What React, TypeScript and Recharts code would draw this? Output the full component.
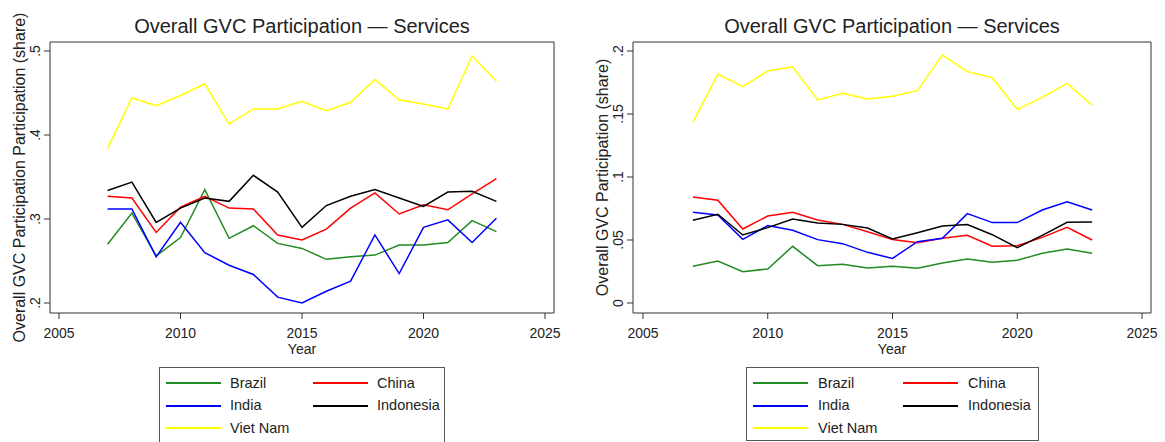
import React from 'react';
import { LineChart, Line, XAxis, YAxis, ReferenceLine } from 'recharts';

const years = [2007, 2008, 2009, 2010, 2011, 2012, 2013, 2014, 2015, 2016, 2017, 2018, 2019, 2020, 2021, 2022, 2023];
const countries = ['Brazil', 'China', 'India', 'Indonesia', 'Viet Nam'];
const countryColors = ['#228B22', '#FF0000', '#0000FF', '#000000', '#FFFF00'];
const yearTicks = [2005, 2010, 2015, 2020, 2025];

// left panel
const brazilA = [0.270, 0.307, 0.256, 0.278, 0.335, 0.277, 0.292, 0.271, 0.265, 0.252, 0.255, 0.257, 0.269, 0.269, 0.272, 0.298, 0.285];
const chinaA = [0.327, 0.325, 0.284, 0.314, 0.327, 0.313, 0.312, 0.281, 0.275, 0.288, 0.313, 0.331, 0.306, 0.317, 0.311, 0.330, 0.348];
const indiaA = [0.312, 0.312, 0.255, 0.296, 0.260, 0.245, 0.234, 0.207, 0.200, 0.214, 0.226, 0.281, 0.235, 0.290, 0.299, 0.272, 0.301];
const indonesiaA = [0.334, 0.344, 0.296, 0.313, 0.325, 0.321, 0.352, 0.332, 0.290, 0.316, 0.327, 0.335, 0.325, 0.315, 0.332, 0.333, 0.321];
const vietNamA = [0.384, 0.444, 0.435, 0.447, 0.461, 0.413, 0.431, 0.431, 0.440, 0.429, 0.439, 0.466, 0.442, 0.437, 0.431, 0.494, 0.464];
const ticksA = [0.2, 0.3, 0.4, 0.5];

// right panel
const brazilB = [0.0291, 0.0333, 0.0249, 0.0270, 0.0450, 0.0296, 0.0307, 0.0278, 0.0291, 0.0275, 0.0317, 0.0349, 0.0323, 0.0339, 0.0394, 0.0429, 0.0394];
const chinaB = [0.0841, 0.0815, 0.0587, 0.0690, 0.0720, 0.0659, 0.0624, 0.0566, 0.0503, 0.0479, 0.0513, 0.0537, 0.0450, 0.0455, 0.0521, 0.0601, 0.0500];
const indiaB = [0.0720, 0.0698, 0.0505, 0.0614, 0.0577, 0.0503, 0.0471, 0.0402, 0.0354, 0.0487, 0.0513, 0.0709, 0.0638, 0.0638, 0.0738, 0.0804, 0.0738];
const indonesiaB = [0.0656, 0.0704, 0.0540, 0.0598, 0.0667, 0.0635, 0.0624, 0.0595, 0.0508, 0.0558, 0.0611, 0.0622, 0.0542, 0.0439, 0.0537, 0.0640, 0.0643];
const vietNamB = [0.1434, 0.1817, 0.1717, 0.1841, 0.1875, 0.1611, 0.1664, 0.1619, 0.1640, 0.1685, 0.1968, 0.1836, 0.1788, 0.1537, 0.1632, 0.1743, 0.1569];
const ticksB = [0, 0.05, 0.1, 0.15, 0.2];

const chartTitle = 'Overall GVC Participation — Services';
const yLabelA = 'Overall GVC Participation Participation (share)';
const yLabelB = 'Overall GVC Participation (share)';

const FONT = '"Liberation Sans", Arial, Helvetica, sans-serif';
const INK = '#222';
const FRAME = '#333';

const buildRows = (series: number[][]) =>
  years.map((year, i) => {
    const row: Record<string, number> = { year };
    countries.forEach((c, k) => {
      row[c] = series[k][i];
    });
    return row;
  });

const rowsA = buildRows([brazilA, chinaA, indiaA, indonesiaA, vietNamA]);
const rowsB = buildRows([brazilB, chinaB, indiaB, indonesiaB, vietNamB]);

// Stata-style share labels: .5, .05, 0
const fmtShare = (v: number) => (v === 0 ? '0' : String(v).replace(/^0\./, '.'));

const RotatedTick = (props: any) => {
  const { x, y, payload } = props;
  return (
    <text
      x={x}
      y={y}
      transform={`rotate(-90 ${x} ${y})`}
      textAnchor="middle"
      fontSize={14}
      fontFamily={FONT}
      fill={INK}
    >
      {fmtShare(payload.value)}
    </text>
  );
};

const YTitle = (props: any) => {
  const { viewBox, text } = props;
  const x = viewBox.x + 25;
  const y = viewBox.y + viewBox.height / 2;
  return (
    <text x={x} y={y} transform={`rotate(-90 ${x} ${y})`} textAnchor="middle" fontSize={16} fontFamily={FONT} fill={INK}>
      {text}
    </text>
  );
};

const XTitle = (props: any) => {
  const { viewBox } = props;
  return (
    <text x={viewBox.x + viewBox.width / 2} y={viewBox.y + 41} textAnchor="middle" fontSize={14} fontFamily={FONT} fill={INK}>
      Year
    </text>
  );
};

interface PanelProps {
  rows: Record<string, number>[];
  width: number;
  xDomain: [number, number];
  yDomain: [number, number];
  yTicks: number[];
  yLabel: string;
}

const Panel = ({ rows, width, xDomain, yDomain, yTicks, yLabel }: PanelProps) => (
  <LineChart width={width} height={442} data={rows} margin={{ top: 42, right: 26, bottom: 89, left: 0 }}>
    <XAxis
      dataKey="year"
      type="number"
      domain={xDomain}
      ticks={yearTicks}
      allowDataOverflow
      height={40}
      tickSize={6}
      tickMargin={9}
      stroke={FRAME}
      tick={{ fontSize: 14, fill: INK, fontFamily: FONT }}
      label={<XTitle />}
    />
    <YAxis
      type="number"
      domain={yDomain}
      ticks={yTicks}
      allowDataOverflow
      width={50}
      tickSize={6}
      tickMargin={4}
      stroke={FRAME}
      tick={<RotatedTick />}
      label={<YTitle text={yLabel} />}
    />
    {/* top and right edges of the plot frame */}
    <ReferenceLine y={yDomain[1]} stroke={FRAME} strokeWidth={1} />
    <ReferenceLine x={xDomain[1]} stroke={FRAME} strokeWidth={1} />
    {countries.map((c, k) => (
      <Line
        key={c}
        type="linear"
        dataKey={c}
        stroke={countryColors[k]}
        strokeWidth={1.5}
        dot={false}
        activeDot={false}
        isAnimationActive={false}
      />
    ))}
  </LineChart>
);

interface LegendBoxProps {
  left: number;
  width: number;
  height: number;
  col2: number;
  textGap: number;
}

const LegendBox = ({ left, width, height, col2, textGap }: LegendBoxProps) => (
  <div
    style={{
      position: 'absolute',
      left,
      top: 367,
      width,
      height,
      border: '1px solid #555',
      boxSizing: 'border-box',
      background: '#fff',
    }}
  >
    {countries.map((c, k) => {
      const row = Math.floor(k / 2);
      const colX = k % 2 === 0 ? 6 : col2;
      const cy = 15 + row * 22.5;
      return (
        <React.Fragment key={c}>
          <div style={{ position: 'absolute', left: colX, top: cy - 1, width: 55, height: 2, background: countryColors[k] }} />
          <div
            style={{
              position: 'absolute',
              left: colX + textGap,
              top: cy - 7.5,
              fontSize: 14.5,
              lineHeight: '15px',
              fontFamily: FONT,
              color: INK,
              whiteSpace: 'nowrap',
            }}
          >
            {c}
          </div>
        </React.Fragment>
      );
    })}
  </div>
);

const Title = ({ center }: { center: number }) => (
  <div
    style={{
      position: 'absolute',
      left: center - 200,
      width: 400,
      top: 16,
      textAlign: 'center',
      fontSize: 20,
      lineHeight: '20px',
      fontFamily: FONT,
      color: INK,
    }}
  >
    {chartTitle}
  </div>
);

export default function App() {
  return (
    <div style={{ position: 'absolute', left: 0, top: 0, width: 1165, height: 442, overflow: 'hidden', background: '#fff' }}>
      <div style={{ position: 'absolute', left: 0, top: 0 }}>
        <Panel rows={rowsA} width={580} xDomain={[2004.63, 2025.37]} yDomain={[0.1881, 0.5107]} yTicks={ticksA} yLabel={yLabelA} />
      </div>
      <div style={{ position: 'absolute', left: 583, top: 0 }}>
        <Panel rows={rowsB} width={594} xDomain={[2004.6, 2025.36]} yDomain={[-0.00794, 0.20714]} yTicks={ticksB} yLabel={yLabelB} />
      </div>
      <Title center={302} />
      <Title center={892} />
      <LegendBox left={159} width={286} height={80} col2={153} textGap={64} />
      <LegendBox left={746} width={293} height={74} col2={156} textGap={65} />
    </div>
  );
}
